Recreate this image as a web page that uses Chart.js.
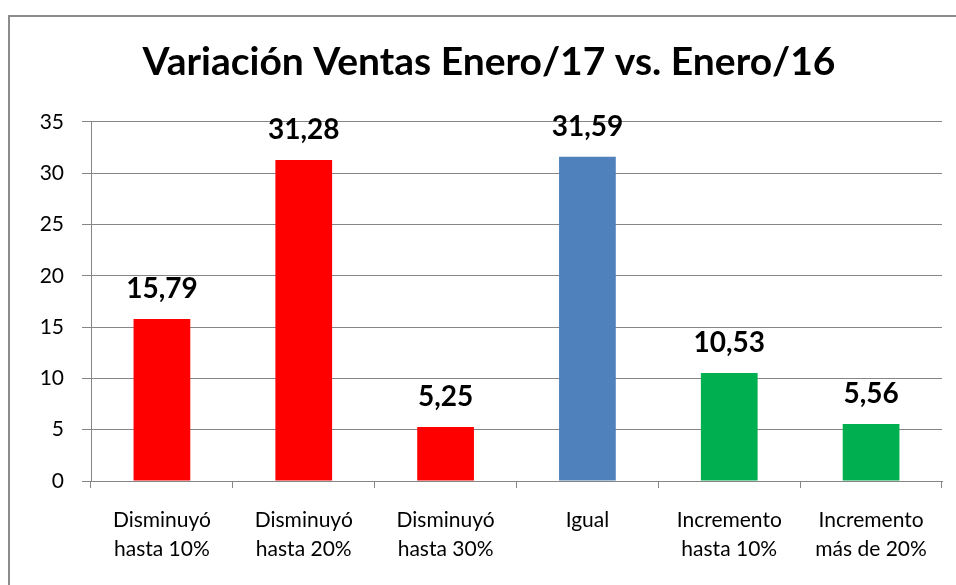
<!DOCTYPE html>
<html lang="es">
<head>
    <meta charset="UTF-8">
    <title>Variación Ventas</title>
    <script src="https://cdn.jsdelivr.net/npm/chart.js"></script>
    <style>
        html, body { margin: 0; padding: 0; overflow: hidden; background: #fff; }
        #frame { position: absolute; left: 8px; top: 15px; width: 2000px; height: 2000px; border: 2px solid #8c8c8c; }
        #wrap { position: absolute; left: 0; top: 0; width: 956px; height: 585px; }
    </style>
</head>
<body>
<div id="frame"></div>
<div id="wrap"><canvas id="myChart" width="956" height="585"></canvas></div>
<script>
    // datos
    const categorias = [
        ['Disminuyó', 'hasta 10%'],
        ['Disminuyó', 'hasta 20%'],
        ['Disminuyó', 'hasta 30%'],
        'Igual',
        ['Incremento', 'hasta 10%'],
        ['Incremento', 'más de 20%']
    ];
    const valores = [15.79, 31.28, 5.25, 31.59, 10.53, 5.56];
    const colores = ['#ff0000', '#ff0000', '#ff0000', '#4f81bd', '#00b050', '#00b050'];
    const ticksY = [0, 5, 10, 15, 20, 25, 30, 35];

    const gris = '#868686';
    const fuente = 'Lato';

    // etiquetas encima de las barras
    const etiquetas = {
        id: 'etiquetas',
        afterDatasetsDraw(chart) {
            const ctx = chart.ctx;
            const meta = chart.getDatasetMeta(0);
            ctx.save();
            ctx.font = 'bold 28px ' + fuente;
            ctx.fillStyle = '#000';
            ctx.textAlign = 'center';
            ctx.textBaseline = 'alphabetic';
            meta.data.forEach((bar, i) => {
                ctx.fillText(valores[i].toFixed(2).replace('.', ','), bar.x, bar.y - 21);
            });
            ctx.restore();
        }
    };

    new Chart(document.getElementById('myChart'), {
        type: 'bar',
        data: {
            labels: categorias,
            datasets: [{
                data: valores,
                backgroundColor: colores,
                borderWidth: 0,
                categoryPercentage: 1,
                barPercentage: 0.4
            }]
        },
        options: {
            responsive: false,
            animation: false,
            layout: { padding: { left: 36, right: 14, top: 0, bottom: 0 } },
            plugins: {
                legend: { display: false },
                tooltip: { enabled: false },
                title: {
                    display: true,
                    text: 'Variación Ventas Enero/17 vs. Enero/16',
                    color: '#000',
                    font: { family: fuente, size: 39, weight: 'bold', lineHeight: 1.2 },
                    padding: { top: 39, bottom: 36 }
                }
            },
            scales: {
                x: {
                    grid: { display: true, drawOnChartArea: false, drawTicks: true, tickLength: 7, color: gris },
                    border: { display: true, color: gris },
                    ticks: {
                        color: '#000',
                        autoSkip: false,
                        maxRotation: 0,
                        padding: 18,
                        font: { family: fuente, size: 21, lineHeight: 1.38 }
                    },
                    afterFit(scale) { scale.height = 104; }
                },
                y: {
                    min: 0,
                    max: 35,
                    afterBuildTicks(scale) { scale.ticks = ticksY.map(v => ({ value: v })); },
                    grid: { color: gris, tickLength: 9 },
                    border: { display: true, color: gris },
                    ticks: {
                        color: '#000',
                        padding: 18,
                        font: { family: fuente, size: 21 }
                    },
                    afterFit(scale) { scale.width = 55; }
                }
            }
        },
        plugins: [etiquetas]
    });
</script>
</body>
</html>
